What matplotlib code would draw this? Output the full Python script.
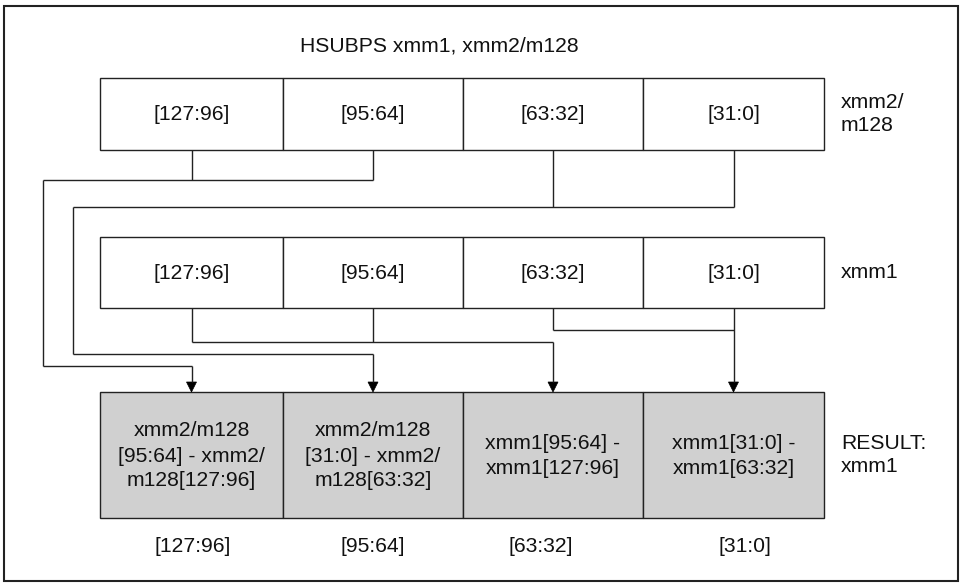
import matplotlib
matplotlib.use("Agg")
import matplotlib.pyplot as plt
from matplotlib.patches import Rectangle, Polygon

plt.rcParams['font.family'] = ['Liberation Sans', 'DejaVu Sans']

# ---- data ----
title = "HSUBPS xmm1, xmm2/m128"
src2_labels = ["[127:96]", "[95:64]", "[63:32]", "[31:0]"]
src1_labels = ["[127:96]", "[95:64]", "[63:32]", "[31:0]"]
result_labels = ["xmm2/m128\n[95:64] - xmm2/\nm128[127:96]",
                 "xmm2/m128\n[31:0] - xmm2/\nm128[63:32]",
                 "xmm1[95:64] -\nxmm1[127:96]",
                 "xmm1[31:0] -\nxmm1[63:32]"]
bit_labels = ["[127:96]", "[95:64]", "[63:32]", "[31:0]"]
row_names = ["xmm2/\nm128", "xmm1", "RESULT:\nxmm1"]

# ---- layout (pixels) ----
W, H = 968, 583
col_edges = [100, 283, 463, 643, 824]
centers = [(col_edges[i] + col_edges[i + 1]) / 2 for i in range(4)]
rows = {"src2": (78, 150), "src1": (237, 308), "res": (392, 518)}
bit_label_x = [193, 373, 541, 745]
FS = 15.2
TC = '#111111'

fig = plt.figure(figsize=(W / 100, H / 100), dpi=100)
ax = fig.add_axes([0, 0, 1, 1])
ax.set_xlim(0, W)
ax.set_ylim(H, 0)
ax.axis('off')

# outer frame
ax.add_patch(Rectangle((4, 6), 954, 575, fill=False, lw=1.5, ec='#222222'))

ax.text(300, 46, title, fontsize=FS, ha='left', va='center', color=TC)


def draw_row(key, labels, fill):
    y0, y1 = rows[key]
    for i, lab in enumerate(labels):
        ax.add_patch(Rectangle((col_edges[i], y0), col_edges[i + 1] - col_edges[i], y1 - y0,
                               fc=fill, ec='#222222', lw=1.0))
        ax.text(centers[i], (y0 + y1) / 2 + 1, lab, fontsize=FS, ha='center', va='center',
                color=TC, linespacing=1.4)


draw_row("src2", src2_labels, 'white')
draw_row("src1", src1_labels, 'white')
draw_row("res", result_labels, '#d0d0d0')

# row names
ax.text(841, 114, row_names[0], fontsize=FS, ha='left', va='center', linespacing=1.3, color=TC)
ax.text(841, 272, row_names[1], fontsize=FS, ha='left', va='center', color=TC)
ax.text(841, 455, row_names[2], fontsize=FS, ha='left', va='center', linespacing=1.3, color=TC)

for x, lab in zip(bit_label_x, bit_labels):
    ax.text(x, 547, lab, fontsize=FS, ha='center', va='center', color=TC)

LC = '#222222'


def seg(xs, ys):
    ax.plot(xs, ys, color=LC, lw=1.0, solid_capstyle='butt')


def arrow(x, y_from, y_to):
    hl, hw = 10, 5
    seg([x, x], [y_from, y_to - hl])
    ax.add_patch(Polygon([[x - hw, y_to - hl], [x + hw, y_to - hl], [x, y_to]],
                         closed=True, fc='black', ec='black', lw=0.5))


# connections: (source row, source cols, join y, route x, route y, target col)
connections = [
    ("src2", [0, 1], 180, 43, 366, 0),
    ("src2", [2, 3], 207, 73, 354, 1),
    ("src1", [0, 1], 342, None, None, 2),
    ("src1", [2, 3], 330, None, None, 3),
]
res_top = rows["res"][0]
for key, cols, jy, rx, ry, tgt in connections:
    ybot = rows[key][1]
    tx = centers[tgt]
    srcx = [centers[c] for c in cols]
    for c in cols:
        if rx is None and abs(centers[c] - tx) < 1:
            continue
        seg([centers[c], centers[c]], [ybot, jy])
    if rx is not None:
        seg([rx, max(srcx)], [jy, jy])
        seg([rx, rx], [jy, ry])
        seg([rx, tx], [ry, ry])
        arrow(tx, ry, res_top)
    else:
        seg([min(srcx + [tx]), max(srcx + [tx])], [jy, jy])
        if tx in srcx:
            arrow(tx, ybot, res_top)
        else:
            arrow(tx, jy, res_top)

fig.savefig("out.png", dpi=100)
